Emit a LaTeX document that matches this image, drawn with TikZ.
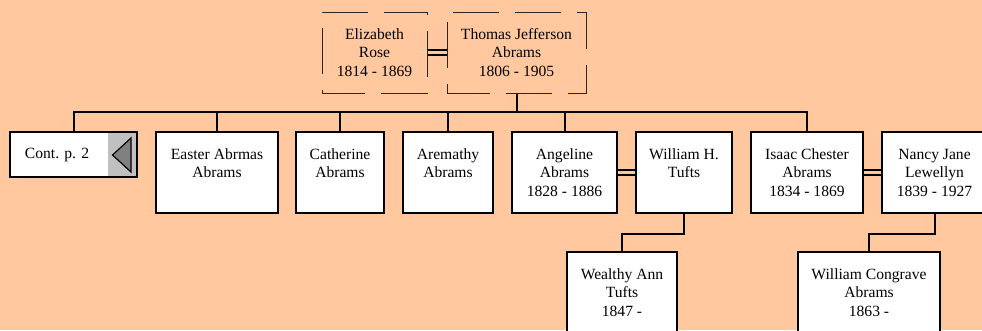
\documentclass[tikz,border=0pt]{standalone}
\usepackage{fontspec}
\setmainfont{Liberation Serif}
\definecolor{bg}{HTML}{FFC89E}
\definecolor{panelgray}{HTML}{C0C0C0}
\definecolor{arrowgray}{HTML}{808080}
\begin{document}
\begin{tikzpicture}[x=1pt,y=-1pt,
  txt/.style={font=\fontsize{15.6}{18.5}\selectfont, align=center, text=black},
  person/.style={txt, draw=black, line width=2pt, fill=white, inner sep=0pt,
    minimum width=#1, minimum height=81pt},
  spouse/.style={txt, draw=black!85, line width=1pt, inner sep=0pt,
    dash pattern=on 46pt off 16pt, dash phase=3pt,
    minimum width=#1, minimum height=81pt},
  conn/.style={draw=black, line width=2pt},
  marriage/.style={draw=black, line width=1.5pt, double=bg, double distance=3.2pt},
]
\useasboundingbox (0,0) rectangle (982,330);
\clip (0,0) rectangle (982,330);
\fill[bg] (0,0) rectangle (982,330);

% top couple
\node[spouse=105pt] (eliz) at (374.5,52.5) {Elizabeth\\Rose\\1814 - 1869};
\node[spouse=139pt] (thomas) at (516.5,52.5) {Thomas Jefferson\\Abrams\\1806 - 1905};

% children row
\node[txt, minimum width=127pt, minimum height=45pt, fill=white, inner sep=0pt] (cont) at (73.5,154.5) {};
\fill[panelgray] (108,132) rectangle (cont.south east);
\draw[line width=2pt] (cont.north west) rectangle (cont.south east);
\draw[line width=1.2pt, fill=arrowgray] (112.5,155) -- (131,138) -- (131,172) -- cycle;
\node[txt] (conttext) at (57,155) {Cont. p. 2};

\node[person=122pt] (easter) at (217,172.5) {Easter Abrmas\\Abrams\\~};
\node[person=88pt] (cath) at (340,172.5) {Catherine\\Abrams\\~};
\node[person=90pt] (arem) at (448,172.5) {Aremathy\\Abrams\\~};
\node[person=105pt] (angel) at (564.5,172.5) {Angeline\\Abrams\\1828 - 1886};
\node[person=96pt] (willh) at (684,172.5) {William H.\\Tufts\\~};
\node[person=112pt] (isaac) at (807,172.5) {Isaac Chester\\Abrams\\1834 - 1869};
\node[person=105pt] (nancy) at (934.5,172.5) {Nancy Jane\\Lewellyn\\1839 - 1927};

% grandchildren
\node[person=110pt] (wealthy) at (622,292.5) {Wealthy Ann\\Tufts\\1847 -};
\node[person=142pt] (wcong) at (869,292.5) {William Congrave\\Abrams\\1863 -};

% connectors
\coordinate (bus) at (0,112);
\draw[marriage] (eliz.east) -- (thomas.west);
\draw[conn] (thomas.south) -- (thomas.south |- bus);
\draw[conn] (cont.north) -- (cont.north |- bus) -- (isaac.north |- bus) -- (isaac.north);
\foreach \n in {easter,cath,arem,angel}
  \draw[conn] (\n.north) -- (\n.north |- bus);
\draw[marriage] (angel.east) -- (willh.west);
\draw[marriage] (isaac.east) -- (nancy.west);
\draw[conn] (willh.south) -- ++(0,20) -| (wealthy.north);
\draw[conn] (nancy.south) -- ++(0,20) -| (wcong.north);
\end{tikzpicture}
\end{document}
